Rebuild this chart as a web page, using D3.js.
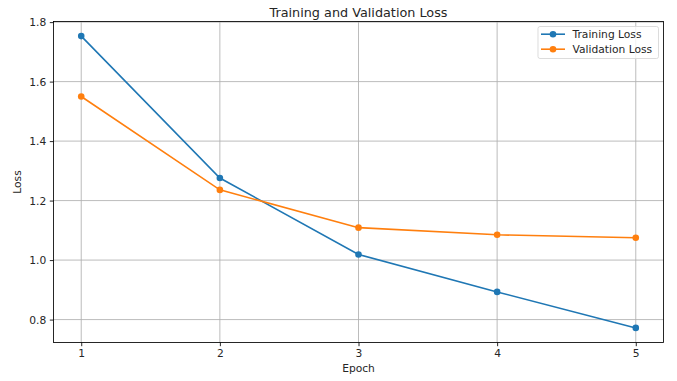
<!DOCTYPE html>
<html><head><meta charset="utf-8">
<script src="https://cdn.jsdelivr.net/npm/d3@7"></script>
<style>body{margin:0;background:#fff}svg{display:block}text{font-family:"DejaVu Sans",sans-serif;fill:#262626}</style>
</head><body>
<script>
const epochs = [1, 2, 3, 4, 5];
const trainingLoss = [1.753, 1.276, 1.019, 0.893, 0.772];
const validationLoss = [1.550, 1.236, 1.109, 1.085, 1.075];
const xTicks = [1, 2, 3, 4, 5];
const yTicks = [0.8, 1.0, 1.2, 1.4, 1.6, 1.8];
const seriesNames = ["Training Loss", "Validation Loss"];
const colors = ["#1f77b4", "#ff7f0e"];

const W = 677, H = 381;
const L = 53.5, R = 663.5, T = 21.5, B = 342.5;
const svg = d3.select("body").append("svg").attr("width", W).attr("height", H);

const allY = trainingLoss.concat(validationLoss);
const yMin = d3.min(allY), yMax = d3.max(allY), yPad = (yMax - yMin) * 0.05;
const x = d3.scaleLinear().domain([0.8, 5.2]).range([L, R]);
const y = d3.scaleLinear().domain([yMin - yPad, yMax + yPad]).range([B, T]);

// grid
const g = svg.append("g");
g.selectAll(".gx").data(xTicks).enter().append("line")
  .attr("x1", d => x(d)).attr("x2", d => x(d)).attr("y1", T).attr("y2", B)
  .attr("stroke", "#b0b0b0").attr("stroke-width", 0.85);
g.selectAll(".gy").data(yTicks).enter().append("line")
  .attr("x1", L).attr("x2", R).attr("y1", d => y(d)).attr("y2", d => y(d))
  .attr("stroke", "#b0b0b0").attr("stroke-width", 0.85);

// axes
const xAxis = d3.axisBottom(x).tickValues(xTicks).tickFormat(d3.format("d")).tickSizeInner(3.7).tickSizeOuter(0).tickPadding(3.5);
const yAxis = d3.axisLeft(y).tickValues(yTicks).tickFormat(d3.format(".1f")).tickSizeInner(3.7).tickSizeOuter(0).tickPadding(3.5);
const ax = svg.append("g").attr("transform", `translate(0,${B})`).call(xAxis);
const ay = svg.append("g").attr("transform", `translate(${L},0)`).call(yAxis);
[ax, ay].forEach(a => {
  a.select(".domain").remove();
  a.selectAll("line").attr("stroke", "#000").attr("stroke-width", 0.85);
  a.selectAll("text").style("font-family", "DejaVu Sans").style("font-size", "10.7px").attr("fill", "#262626");
});

// series
const series = [trainingLoss, validationLoss];
const line = d3.line().x((d, i) => x(epochs[i])).y(d => y(d));
series.forEach((s, k) => {
  svg.append("path").datum(s).attr("d", line).attr("fill", "none")
    .attr("stroke", colors[k]).attr("stroke-width", 1.6);
  svg.selectAll(".m" + k).data(s).enter().append("circle")
    .attr("cx", (d, i) => x(epochs[i])).attr("cy", d => y(d)).attr("r", 3.3)
    .attr("fill", colors[k]);
});

// frame
svg.append("rect").attr("x", L).attr("y", T).attr("width", R - L).attr("height", B - T)
  .attr("fill", "none").attr("stroke", "#000").attr("stroke-width", 0.85);

// title & labels
svg.append("text").attr("x", (L + R) / 2).attr("y", 16.5).attr("text-anchor", "middle")
  .style("font-size", "12.8px").text("Training and Validation Loss");
svg.append("text").attr("x", (L + R) / 2).attr("y", 371.5).attr("text-anchor", "middle")
  .style("font-size", "10.7px").text("Epoch");
svg.append("text").attr("transform", `translate(21,${(T + B) / 2}) rotate(-90)`).attr("text-anchor", "middle")
  .style("font-size", "10.7px").text("Loss");

// legend
const lg = svg.append("g");
lg.append("rect").attr("x", 538).attr("y", 26.5).attr("width", 120.5).attr("height", 32)
  .attr("rx", 2).attr("fill", "#fff").attr("fill-opacity", 0.8).attr("stroke", "#d6d6d6").attr("stroke-width", 0.85);
seriesNames.forEach((n, k) => {
  const yy = 34.2 + k * 15;
  lg.append("line").attr("x1", 541).attr("x2", 565).attr("y1", yy).attr("y2", yy)
    .attr("stroke", colors[k]).attr("stroke-width", 1.6);
  lg.append("circle").attr("cx", 553).attr("cy", yy).attr("r", 3.3).attr("fill", colors[k]);
  lg.append("text").attr("x", 572.5).attr("y", yy + 3.8).style("font-size", "10.7px").text(n);
});
</script>
</body></html>
